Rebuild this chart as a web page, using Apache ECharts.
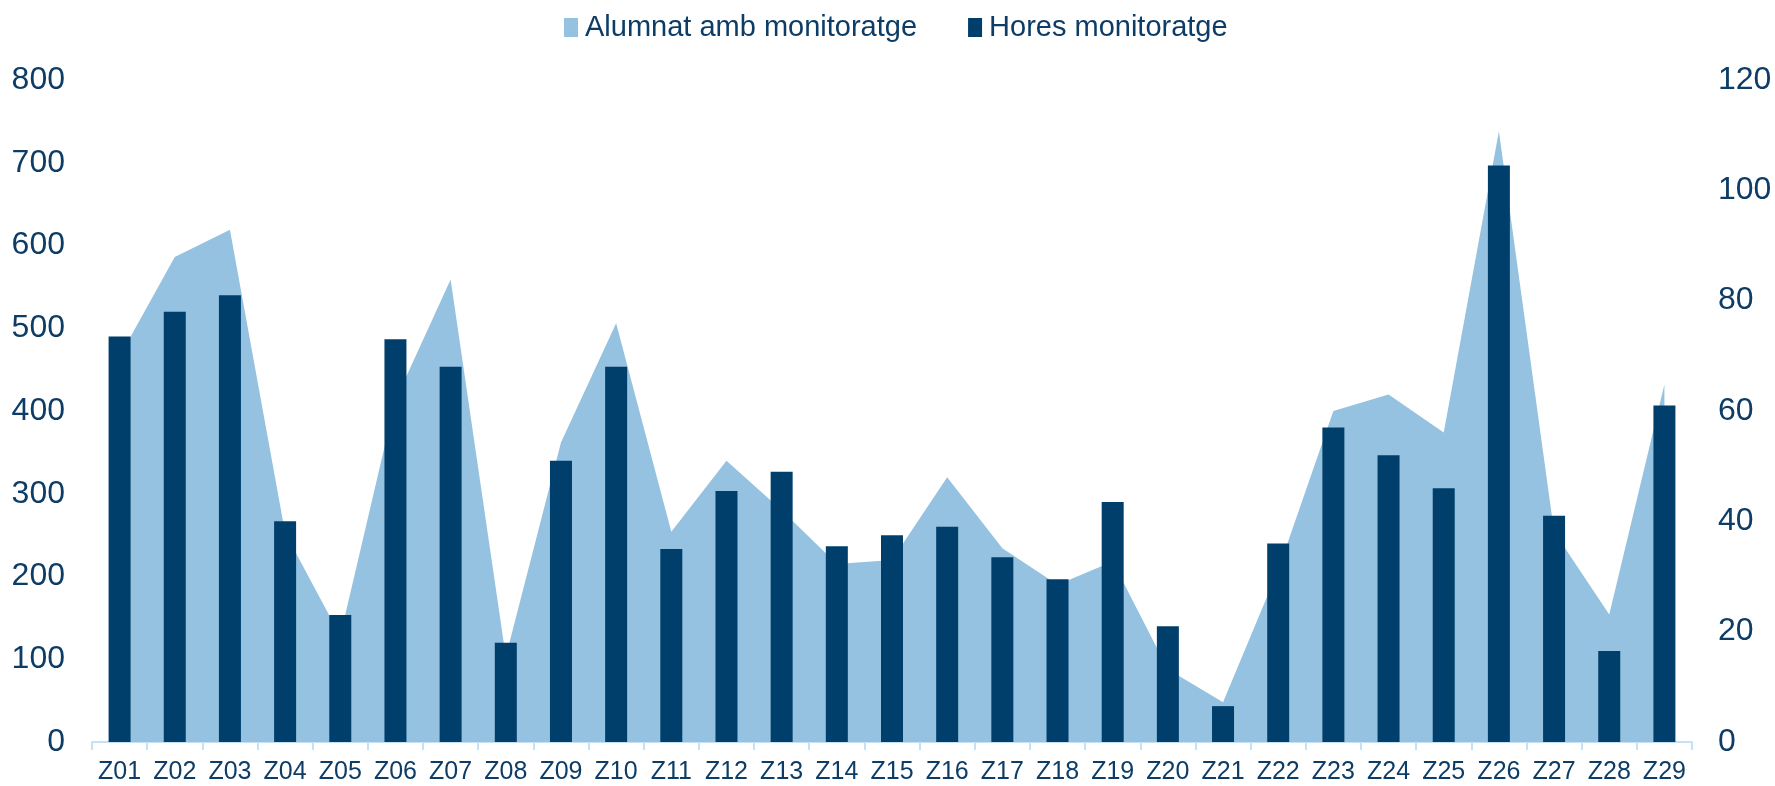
<!DOCTYPE html>
<html>
<head>
<meta charset="utf-8">
<script src="https://cdn.jsdelivr.net/npm/echarts@6/dist/echarts.min.js"></script>
<style>
  html, body { margin: 0; padding: 0; background: #ffffff; }
  #chart { width: 1775px; height: 786px; }
</style>
</head>
<body>
<div id="chart"></div>
<script>
// Zones
const categories = ['Z01','Z02','Z03','Z04','Z05','Z06','Z07','Z08','Z09','Z10',
  'Z11','Z12','Z13','Z14','Z15','Z16','Z17','Z18','Z19','Z20',
  'Z21','Z22','Z23','Z24','Z25','Z26','Z27','Z28','Z29'];

// Students with mentoring (left axis)
const alumnat = [466, 586, 619, 253, 128, 413, 559, 103, 362, 506,
  254, 340, 280, 215, 220, 320, 234, 190, 218, 88,
  48, 208, 400, 420, 374, 738, 254, 154, 432];

// Mentoring hours (right axis)
const hores = [73.5, 78, 81, 40, 23, 73, 68, 18, 51, 68,
  35, 45.5, 49, 35.5, 37.5, 39, 33.5, 29.5, 43.5, 21,
  6.5, 36, 57, 52, 46, 104.5, 41, 16.5, 61];

const leftTicks = { min: 0, max: 800, interval: 100 };
const rightTicks = { min: 0, max: 120, interval: 20 };

const seriesNames = ['Alumnat amb monitoratge', 'Hores monitoratge'];

const FONT = "'Liberation Sans', Arial, sans-serif";
const TEXT = '#0d3d66';
const AREA = '#94c2e0';
const BAR = '#003f6b';
const AXIS = '#c4e1f6';

const chart = echarts.init(document.getElementById('chart'), null, { renderer: 'canvas' });

chart.setOption({
  animation: false,
  backgroundColor: '#ffffff',
  textStyle: { fontFamily: FONT },
  legend: {
    data: seriesNames,
    left: 559,
    top: 8,
    icon: 'rect',
    itemWidth: 14,
    itemHeight: 19,
    itemGap: 51,
    textStyle: { fontSize: 29, color: TEXT, fontFamily: FONT, padding: [0, 0, 0, 2] }
  },
  grid: { left: 92, right: 83, top: 80, bottom: 44 },
  xAxis: {
    type: 'category',
    data: categories,
    boundaryGap: true,
    axisLine: { show: true, lineStyle: { color: AXIS, width: 2 } },
    axisTick: { show: true, length: 8, lineStyle: { color: AXIS, width: 2 } },
    axisLabel: { fontSize: 25, color: TEXT, fontFamily: FONT, margin: 18, interval: 0 },
    splitLine: { show: false }
  },
  yAxis: [
    {
      type: 'value',
      min: leftTicks.min, max: leftTicks.max, interval: leftTicks.interval,
      axisLine: { show: false },
      axisTick: { show: false },
      splitLine: { show: false },
      axisLabel: { fontSize: 32, color: TEXT, fontFamily: FONT, margin: 27, padding: [4, 0, 0, 0] }
    },
    {
      type: 'value',
      position: 'right',
      min: rightTicks.min, max: rightTicks.max, interval: rightTicks.interval,
      axisLine: { show: false },
      axisTick: { show: false },
      splitLine: { show: false },
      axisLabel: { fontSize: 32, color: TEXT, fontFamily: FONT, margin: 26, padding: [4, 0, 0, 0] }
    }
  ],
  series: [
    {
      name: seriesNames[0],
      type: 'line',
      yAxisIndex: 0,
      data: alumnat,
      symbol: 'none',
      showSymbol: false,
      lineStyle: { width: 0, color: AREA },
      itemStyle: { color: AREA },
      areaStyle: { color: AREA, opacity: 1 },
      z: 1
    },
    {
      name: seriesNames[1],
      type: 'bar',
      yAxisIndex: 1,
      data: hores,
      barWidth: 22,
      itemStyle: { color: BAR },
      z: 2
    }
  ]
});
</script>
</body>
</html>
